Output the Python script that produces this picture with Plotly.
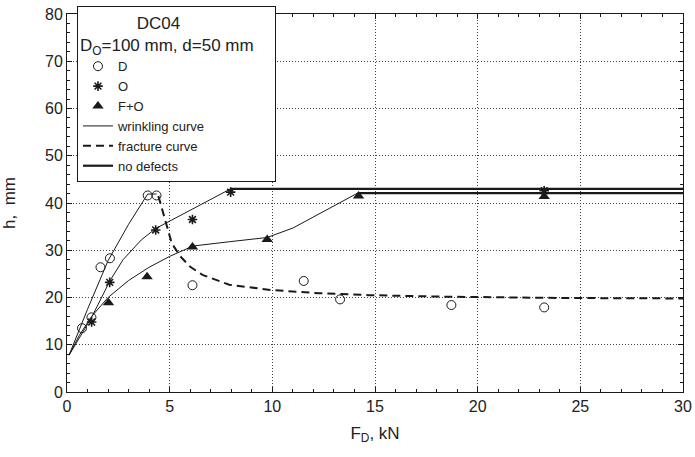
import plotly.graph_objects as go

# ---- data ----
D_x = [0.73, 1.19, 1.63, 2.09, 3.93, 4.36, 6.11, 11.53, 13.3, 18.72, 23.24]
D_y = [13.5, 15.8, 26.4, 28.3, 41.6, 41.6, 22.6, 23.5, 19.6, 18.4, 17.9]

O_x = [1.2, 2.08, 4.32, 6.11, 7.97, 23.24]
O_y = [14.8, 23.2, 34.3, 36.5, 42.3, 42.6]

FO_x = [2.02, 3.9, 6.11, 9.75, 14.2, 23.24]
FO_y = [18.9, 24.4, 30.7, 32.3, 41.5, 41.4]

wrinkD_x = [0.1, 1.0, 2.0, 3.0, 3.93, 4.36]
wrinkD_y = [7.8, 17.5, 27.8, 35.5, 41.9, 41.9]

wrinkO_x = [0.1, 1.2, 2.1, 2.73, 3.62, 4.32, 7.97]
wrinkO_y = [7.8, 15.8, 23.6, 28.0, 32.2, 34.6, 43.0]

wrinkFO_x = [0.1, 0.6, 1.2, 2.0, 3.0, 4.0, 5.0, 6.14, 7.9, 9.75, 11.0, 14.2]
wrinkFO_y = [7.8, 12.0, 16.0, 20.0, 23.6, 26.4, 28.7, 30.9, 31.8, 32.7, 34.7, 42.2]

fract_x = [4.45, 4.8, 5.1, 5.5, 6.0, 6.6, 7.9, 9.9, 12.3, 14.7, 18.0, 24.0, 30.0]
fract_y = [41.5, 36.0, 31.5, 28.8, 26.5, 24.8, 22.7, 21.6, 20.9, 20.5, 20.2, 19.9, 19.8]

nodef1_x = [7.97, 30.0]
nodef1_y = [43.0, 43.0]
nodef2_x = [14.2, 30.0]
nodef2_y = [42.1, 42.1]

x_ticks = [0, 5, 10, 15, 20, 25, 30]
y_ticks = [0, 10, 20, 30, 40, 50, 60, 70, 80]

INK = "#1a1a1a"
FONT = "Liberation Sans, Arial, sans-serif"

fig = go.Figure()

# curves
fig.add_trace(go.Scatter(x=wrinkD_x, y=wrinkD_y, mode="lines", name="wrinkling curve",
                         line=dict(color=INK, width=1), legendrank=4))
fig.add_trace(go.Scatter(x=wrinkO_x, y=wrinkO_y, mode="lines", showlegend=False,
                         line=dict(color=INK, width=1)))
fig.add_trace(go.Scatter(x=wrinkFO_x, y=wrinkFO_y, mode="lines", showlegend=False,
                         line=dict(color=INK, width=1)))
fig.add_trace(go.Scatter(x=fract_x, y=fract_y, mode="lines", name="fracture curve",
                         line=dict(color=INK, width=2, dash="8px,5px"), legendrank=5))
fig.add_trace(go.Scatter(x=nodef1_x, y=nodef1_y, mode="lines", name="no defects",
                         line=dict(color=INK, width=2.2), legendrank=6))
fig.add_trace(go.Scatter(x=nodef2_x, y=nodef2_y, mode="lines", showlegend=False,
                         line=dict(color=INK, width=2.2)))

# markers
fig.add_trace(go.Scatter(x=D_x, y=D_y, mode="markers", name="D", legendrank=1,
                         marker=dict(symbol="circle-open", size=9, color=INK,
                                     line=dict(width=1, color=INK))))
fig.add_trace(go.Scatter(x=O_x, y=O_y, mode="markers", name="O", legendrank=2,
                         marker=dict(symbol="asterisk-open", size=8, color=INK,
                                     line=dict(width=1.6, color=INK))))
fig.add_trace(go.Scatter(x=FO_x, y=FO_y, mode="markers", name="F+O", legendrank=3,
                         marker=dict(symbol="triangle-up", size=10, color=INK,
                                     line=dict(width=0))))

axis_common = dict(
    showline=True, linecolor=INK, linewidth=1, mirror="ticks",
    ticks="inside", ticklen=5, tickcolor=INK, tickwidth=1,
    showgrid=True, gridcolor="#444", gridwidth=1, griddash="1px,2px",
    zeroline=False, automargin=False,
    tickfont=dict(family=FONT, size=16, color="#222"),
)

fig.update_xaxes(range=[0, 30], tickvals=x_ticks, ticktext=[str(v) for v in x_ticks],
                 minor=dict(dtick=1, ticks="inside", ticklen=3, tickcolor=INK, showgrid=False),
                 title=dict(text="F<sub>D</sub>, kN", font=dict(family=FONT, size=17, color="#222"),
                            standoff=12),
                 **axis_common)
fig.update_yaxes(range=[0, 80], tickvals=y_ticks, ticktext=[str(v) for v in y_ticks],
                 minor=dict(dtick=2, ticks="inside", ticklen=3, tickcolor=INK, showgrid=False),
                 title=dict(text="h,  mm", font=dict(family=FONT, size=17, color="#222"),
                            standoff=27),
                 **axis_common)

title_text = ("&nbsp;" * 12 + "DC04<br>" +
              "D<sub>O</sub>=100 mm, d=50 mm" + "&nbsp;" * 4)

fig.update_layout(
    width=695, height=457,
    margin=dict(l=67, r=12, t=14, b=65, autoexpand=False),
    plot_bgcolor="white", paper_bgcolor="white",
    font=dict(family=FONT, color="#222"),
    showlegend=True,
    legend=dict(
        x=0.0162, y=1.021, xanchor="left", yanchor="top",
        bgcolor="white", bordercolor=INK, borderwidth=1,
        font=dict(family=FONT, size=13, color="#222"),
        title=dict(text=title_text,
                   side="top", font=dict(family=FONT, size=17, color="#222")),
        tracegroupgap=0, itemwidth=30,
    ),
)

fig.write_html("out.html", config={"displayModeBar": False},
               post_script="document.body.style.margin='0px';")
